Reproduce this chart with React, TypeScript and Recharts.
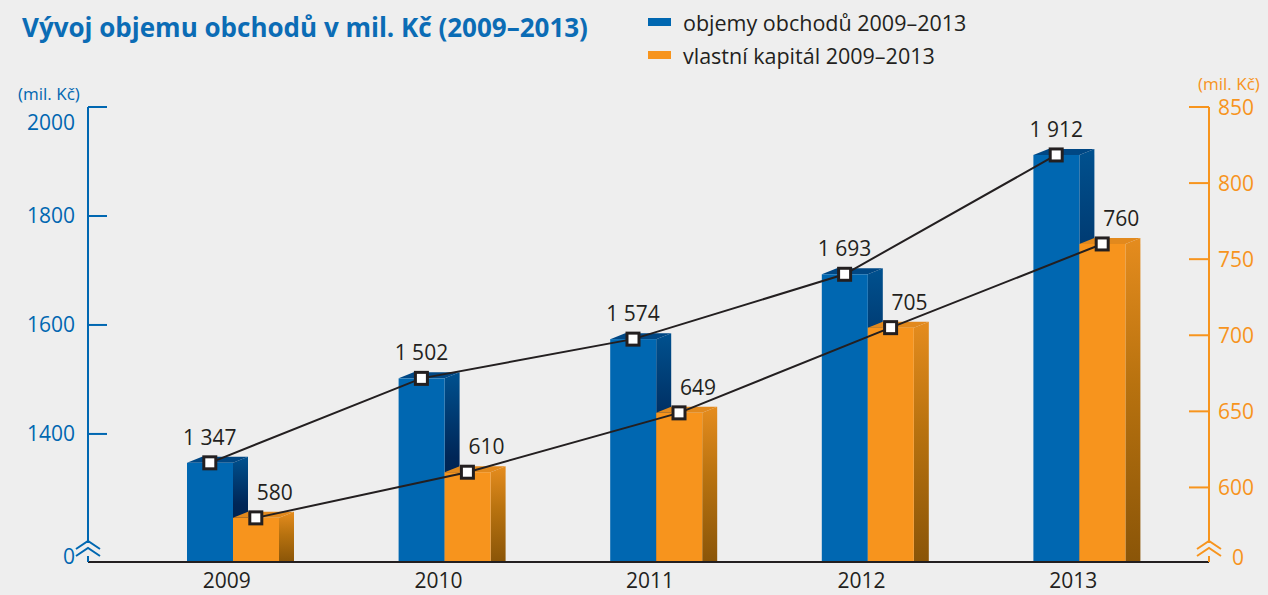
import { ComposedChart, Bar, Line, XAxis, YAxis, LabelList } from "recharts";

const years = ["2009", "2010", "2011", "2012", "2013"];
const objemyObchodu = [1347, 1502, 1574, 1693, 1912];
const vlastniKapital = [580, 610, 649, 705, 760];
// the lowest tick is the axis break, labelled "0"
const leftTicks = [1165, 1400, 1600, 1800, 2000];
const rightTicks = [551, 600, 650, 700, 750, 800, 850];

const data = years.map((rok, i) => ({
  rok,
  objemy: objemyObchodu[i],
  kapital: vlastniKapital[i],
}));

const BLUE = "#0067b1";
const ORANGE = "#f7941d";
const INK = "#231f20";
const BG = "#eeeeee";
const FONT = "'Open Sans', sans-serif";

const DX = 15;
const DY = 6;

const tones: Record<string, { front: string; top: string; side: string[] }> = {
  blue: { front: "#0067b1", top: "#004784", side: ["#00518f", "#002657", "#001a3d"] },
  orange: { front: "#f7941d", top: "#e2891d", side: ["#e58c1e", "#b8720f", "#8a5508"] },
};

const fmt = (v: number) => String(v).replace(/\B(?=(\d{3})+(?!\d))/g, " ");

function Bar3D(props: any) {
  const { x, y, width, height, index, tone } = props;
  const t = tones[tone];
  const id = `side-${tone}-${index}`;
  const bottom = y + height;
  return (
    <g>
      <defs>
        <linearGradient id={id} x1="0" y1="0" x2="0" y2="1">
          <stop offset="0%" stopColor={t.side[0]} />
          <stop offset="45%" stopColor={t.side[1]} />
          <stop offset="100%" stopColor={t.side[2]} />
        </linearGradient>
      </defs>
      <polygon
        points={`${x + width},${y} ${x + width + DX},${y - DY} ${x + width + DX},${bottom} ${x + width},${bottom}`}
        fill={`url(#${id})`}
      />
      <polygon
        points={`${x},${y} ${x + DX},${y - DY} ${x + width + DX},${y - DY} ${x + width},${y}`}
        fill={t.top}
      />
      <rect x={x} y={y} width={width} height={height} fill={t.front} />
    </g>
  );
}

function AxisBreak({ ax, y, color }: { ax: number; y: number; color: string }) {
  return (
    <g>
      <rect x={ax - 3} y={y - 19} width={6} height={13} fill={BG} />
      <polyline
        points={`${ax - 12},${y - 13} ${ax},${y - 21} ${ax + 12},${y - 13}`}
        fill="none"
        stroke={color}
        strokeWidth={2}
      />
      <polyline
        points={`${ax - 12},${y - 6} ${ax},${y - 14} ${ax + 12},${y - 6}`}
        fill="none"
        stroke={color}
        strokeWidth={2}
      />
    </g>
  );
}

function LeftTick(props: any) {
  const { x, y, payload } = props;
  const ax = x + 13;
  const v = payload.value;
  if (v === leftTicks[0]) {
    return (
      <g>
        <AxisBreak ax={ax} y={y} color={BLUE} />
        <text x={x} y={y + 1.5} textAnchor="end" fill={BLUE} fontSize={21} fontFamily={FONT}>
          0
        </text>
      </g>
    );
  }
  const top = v === leftTicks[leftTicks.length - 1];
  return (
    <g>
      <line x1={ax} x2={ax + 19} y1={y} y2={y} stroke={BLUE} strokeWidth={2} />
      <text x={x} y={y + 7.5 + (top ? 15 : 0)} textAnchor="end" fill={BLUE} fontSize={21} fontFamily={FONT}>
        {v}
      </text>
    </g>
  );
}

function RightTick(props: any) {
  const { x, y, payload } = props;
  const ax = x - 9;
  const v = payload.value;
  if (v === rightTicks[0]) {
    return (
      <g>
        <AxisBreak ax={ax} y={y} color={ORANGE} />
        <text x={x + 14} y={y + 2.5} textAnchor="start" fill={ORANGE} fontSize={21} fontFamily={FONT}>
          0
        </text>
      </g>
    );
  }
  return (
    <g>
      <line x1={ax - 20} x2={ax} y1={y} y2={y} stroke={ORANGE} strokeWidth={2} />
      <text x={x} y={y + 7.5} textAnchor="start" fill={ORANGE} fontSize={21} fontFamily={FONT}>
        {v}
      </text>
    </g>
  );
}

function YearTick(props: any) {
  const { x, y, payload } = props;
  return (
    <text x={x - 6} y={y + 26} textAnchor="middle" fill={INK} fontSize={21} fontFamily={FONT}>
      {payload.value}
    </text>
  );
}

const squareDot = (p: any) => (
  <rect
    key={`dot-${p.dataKey}-${p.index}`}
    x={p.cx - 6}
    y={p.cy - 6}
    width={12}
    height={12}
    fill="#ffffff"
    stroke={INK}
    strokeWidth={3}
  />
);

const valueLabel = (shift: number) => (p: any) => (
  <text
    x={p.x + shift}
    y={p.y - 18}
    textAnchor="middle"
    fill={INK}
    fontSize={21}
    fontFamily={FONT}
  >
    {fmt(p.value)}
  </text>
);

export default function App() {
  return (
    <div
      style={{
        position: "absolute",
        left: 0,
        top: 0,
        width: 1268,
        height: 595,
        background: BG,
        fontFamily: FONT,
        overflow: "hidden",
      }}
    >
      <ComposedChart
        width={1268}
        height={595}
        data={data}
        margin={{ top: 107, right: 0, bottom: 0, left: 0 }}
        barGap={0}
        barSize={46}
      >
        <XAxis
          dataKey="rok"
          height={33}
          padding={{ left: 39, right: 24 }}
          axisLine={{ stroke: INK, strokeWidth: 2 }}
          tickLine={false}
          tickSize={0}
          tickMargin={0}
          tick={YearTick}
          interval={0}
        />
        <XAxis xAxisId="objemyLine" dataKey="rok" hide padding={{ left: 16, right: 47 }} />
        <XAxis xAxisId="kapitalLine" dataKey="rok" hide padding={{ left: 62, right: 1 }} />
        <YAxis
          yAxisId="left"
          width={88}
          domain={[leftTicks[0], leftTicks[leftTicks.length - 1]]}
          ticks={leftTicks}
          interval={0}
          axisLine={{ stroke: BLUE, strokeWidth: 2 }}
          tickLine={false}
          tickSize={0}
          tickMargin={13}
          tick={LeftTick}
        />
        <YAxis
          yAxisId="right"
          orientation="right"
          width={59}
          domain={[rightTicks[0], rightTicks[rightTicks.length - 1]]}
          ticks={rightTicks}
          interval={0}
          axisLine={{ stroke: ORANGE, strokeWidth: 2 }}
          tickLine={false}
          tickSize={0}
          tickMargin={9}
          tick={RightTick}
        />
        <Bar
          yAxisId="left"
          dataKey="objemy"
          name="objemy obchodů 2009–2013"
          fill={BLUE}
          isAnimationActive={false}
          shape={(p: any) => <Bar3D {...p} tone="blue" />}
        />
        <Bar
          yAxisId="right"
          dataKey="kapital"
          name="vlastní kapitál 2009–2013"
          fill={ORANGE}
          isAnimationActive={false}
          shape={(p: any) => <Bar3D {...p} tone="orange" />}
        />
        <Line
          xAxisId="objemyLine"
          yAxisId="left"
          type="linear"
          dataKey="objemy"
          stroke={INK}
          strokeWidth={2}
          dot={squareDot}
          activeDot={false}
          isAnimationActive={false}
        >
          <LabelList dataKey="objemy" content={valueLabel(0)} />
        </Line>
        <Line
          xAxisId="kapitalLine"
          yAxisId="right"
          type="linear"
          dataKey="kapital"
          stroke={INK}
          strokeWidth={2}
          dot={squareDot}
          activeDot={false}
          isAnimationActive={false}
        >
          <LabelList dataKey="kapital" content={valueLabel(19)} />
        </Line>
      </ComposedChart>

      <svg
        width={1268}
        height={110}
        style={{ position: "absolute", left: 0, top: 0, pointerEvents: "none" }}
      >
        <text x={22} y={37} fill="#0b6cb5" fontSize={26} fontWeight={700} fontFamily={FONT}>
          Vývoj objemu obchodů v mil. Kč (2009–2013)
        </text>
        <rect x={648} y={18} width={23} height={8} fill={BLUE} />
        <text x={683} y={31} fill={INK} fontSize={21.5} fontFamily={FONT}>
          objemy obchodů 2009–2013
        </text>
        <rect x={648} y={51} width={23} height={8} fill={ORANGE} />
        <text x={683} y={64} fill={INK} fontSize={21.5} fontFamily={FONT}>
          vlastní kapitál 2009–2013
        </text>
        <text x={18} y={100} fill={BLUE} fontSize={17} fontFamily={FONT}>
          (mil. Kč)
        </text>
        <text x={1198} y={90} fill={ORANGE} fontSize={17} fontFamily={FONT}>
          (mil. Kč)
        </text>
      </svg>
    </div>
  );
}
